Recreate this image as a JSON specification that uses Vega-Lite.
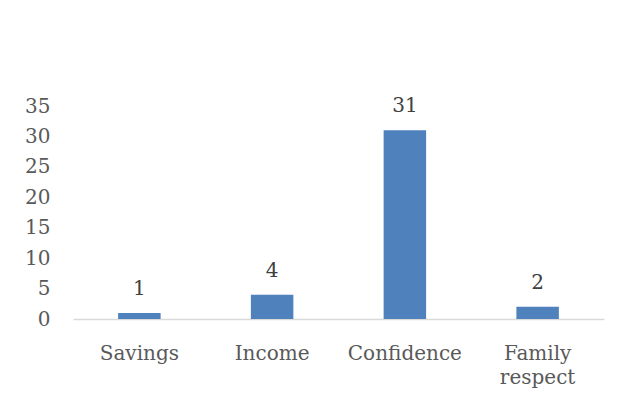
{
  "$schema": "https://vega.github.io/schema/vega-lite/v6.json",
  "autosize": {"type": "none"},
  "width": 531,
  "height": 213,
  "padding": {"left": 73, "top": 106, "right": 18, "bottom": 83},
  "background": "white",
  "config": {"view": {"stroke": null}, "font": "DejaVu Serif"},
  "data": {"values": [
    {"category": "Savings", "value": 1},
    {"category": "Income", "value": 4},
    {"category": "Confidence", "value": 31},
    {"category": "Family respect", "value": 2}
  ]},
  "encoding": {
    "x": {"field": "category", "type": "nominal", "sort": null,
          "scale": {"paddingInner": 0.68, "paddingOuter": 0.34},
          "axis": {"title": null, "labelAngle": 0, "ticks": false, "domainColor": "#d9d9d9", "domainWidth": 1.3,
                   "labelFont": "DejaVu Serif", "labelFontSize": 20, "labelColor": "#595959", "labelPadding": 24,
                   "labelLineHeight": 24,
                   "labelExpr": "datum.label == 'Family respect' ? ['Family', 'respect'] : datum.label"}},
    "y": {"field": "value", "type": "quantitative",
          "scale": {"domain": [0, 35], "nice": false},
          "axis": {"title": null, "values": [0, 5, 10, 15, 20, 25, 30, 35], "grid": false, "domain": false, "ticks": false,
                   "labelOverlap": false, "labelFlush": false,
                   "labelFont": "DejaVu Serif", "labelFontSize": 20, "labelColor": "#595959", "labelPadding": 23}}
  },
  "layer": [
    {
      "mark": {"type": "bar", "color": "#4f81bd"}
    },
    {
      "mark": {"type": "text", "font": "DejaVu Serif", "fontSize": 20, "color": "#404040", "baseline": "alphabetic", "dy": -18},
      "encoding": {
        "text": {"field": "value", "type": "quantitative"}
      }
    }
  ]
}
